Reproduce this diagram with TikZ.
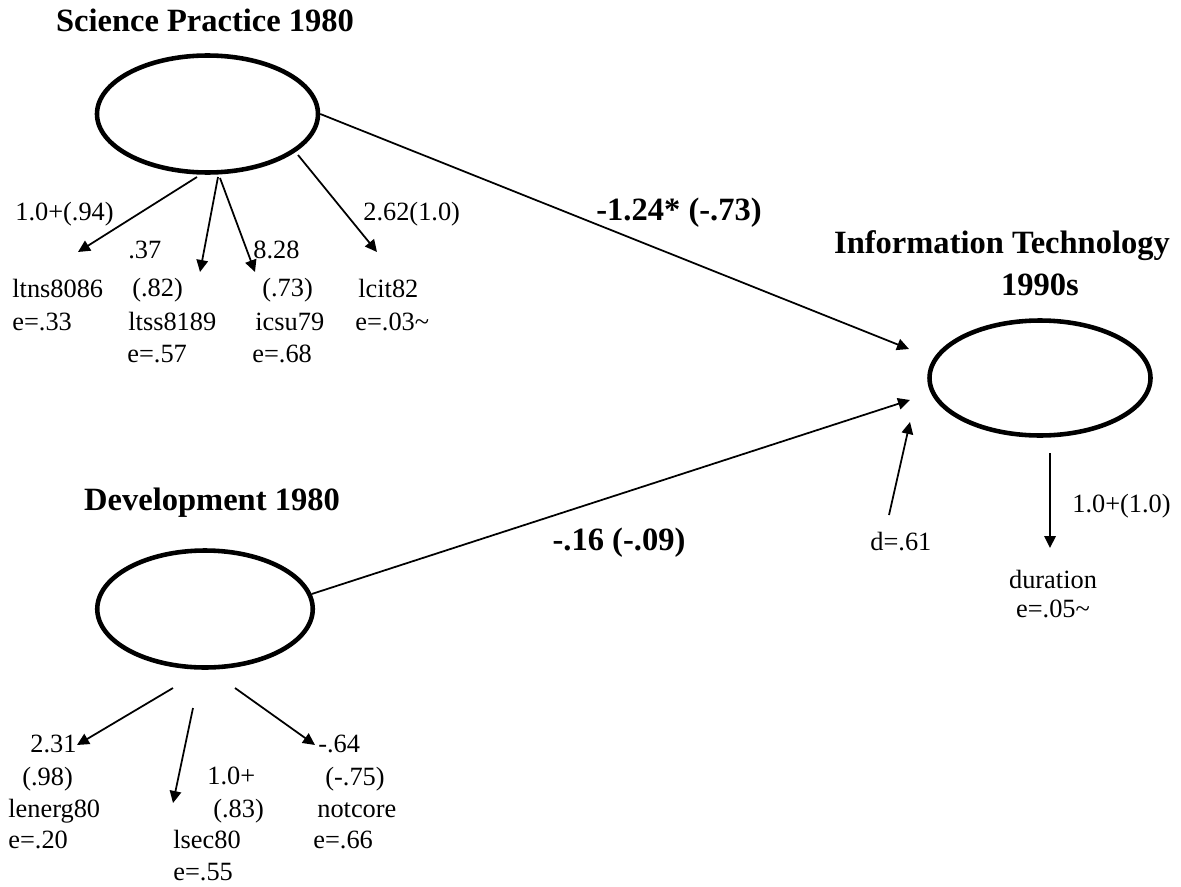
\documentclass[tikz,border=0pt]{standalone}
\usepackage{fontspec}
\setmainfont{Liberation Serif}
\usetikzlibrary{shapes.geometric,arrows.meta}

\begin{document}
\begin{tikzpicture}[x=0.2mm,y=-0.2mm,
  latent node/.style={ellipse,draw,line width=2.6pt,inner sep=0pt,minimum width=44.2mm,minimum height=23.4mm},
  title node/.style={font=\fontsize{18.5}{22}\selectfont\bfseries,inner sep=0pt,anchor=base},
  ind node/.style={font=\fontsize{15}{18}\selectfont,inner sep=0pt,anchor=base west},
  arr/.style={-{Triangle[length=2.4mm,width=2.3mm]},line width=1pt}]

\useasboundingbox (0,0) rectangle (1181,886);

% latent variables
\node[latent node] (sp) at (207.5,114) {};
\node[latent node,minimum width=43.1mm] (dev) at (205,609) {};
\node[latent node,minimum height=23mm] (it) at (1040,378) {};

\node[title node] (spt) at (205,32) {Science Practice 1980};
\node[title node] (devt) at (212,510) {Development 1980};
\node[title node] (itt) at (1002,253) {Information Technology};
\node[title node] (ity) at (1040,295) {1990s};

% path coefficients
\node[title node] (c1) at (679,220) {-1.24* (-.73)};
\node[title node] (c2) at (619,550) {-.16 (-.09)};

% science practice indicators
\node[ind node] (l1) at (15,220) {1.0+(.94)};
\node[ind node] (l4) at (363,220) {2.62(1.0)};
\node[ind node] (l2) at (128,258) {.37};
\node[ind node] (l3) at (253,258) {8.28};
\node[ind node] (ltns) at (12,297) {ltns8086};
\node[ind node] (s2) at (132,296) {(.82)};
\node[ind node] (s3) at (262,296) {(.73)};
\node[ind node] (lcit) at (358,297) {lcit82};
\node[ind node] (e1) at (12,330) {e=.33};
\node[ind node] (ltss) at (128,330) {ltss8189};
\node[ind node] (icsu) at (255,330) {icsu79};
\node[ind node] (e4) at (355,330) {e=.03\textasciitilde};
\node[ind node] (e2) at (127,362) {e=.57};
\node[ind node] (e3) at (252,362) {e=.68};

% development indicators
\node[ind node] (k1) at (30,752) {2.31};
\node[ind node] (k3) at (318,752) {-.64};
\node[ind node] (t1) at (22,785) {(.98)};
\node[ind node] (k2) at (207,784) {1.0+};
\node[ind node] (t3) at (325,785) {(-.75)};
\node[ind node] (lenerg) at (8,817) {lenerg80};
\node[ind node] (t2) at (213,817) {(.83)};
\node[ind node] (notcore) at (317,817) {notcore};
\node[ind node] (f1) at (8,848) {e=.20};
\node[ind node] (lsec) at (173,848) {lsec80};
\node[ind node] (f3) at (313,848) {e=.66};
\node[ind node] (f2) at (173,880) {e=.55};

% outcome indicator
\node[ind node] (dd) at (870,550) {d=.61};
\node[ind node] (m1) at (1072,512) {1.0+(1.0)};
\node[ind node,anchor=base] (dur) at (1053,588) {duration};
\node[ind node,anchor=base] (g1) at (1053,617) {e=.05\textasciitilde};

\coordinate (a1s) at (197,177);
\coordinate (a1e) at (78,252);
\coordinate (a2s) at (218,177);
\coordinate (a2e) at (200,272);
\coordinate (a3s) at (220,178);
\coordinate (a3e) at (255,272);
\coordinate (a4s) at (298,155);
\coordinate (a4e) at (377,252);
\coordinate (b1s) at (173,688);
\coordinate (b1e) at (77,745);
\coordinate (b2s) at (193,708);
\coordinate (b2e) at (173,803);
\coordinate (b3s) at (235,688);
\coordinate (b3e) at (315,745);
\coordinate (spin) at (909,349);
\coordinate (devin) at (910,400);
\coordinate (ds) at (889,515);
\coordinate (de) at (910,422);
\coordinate (dus) at (1050,453);
\coordinate (due) at (1050,548);

\path[] (a1s) [arr] edge (a1e);
\path[] (a2s) [arr] edge (a2e);
\path[] (a3s) [arr] edge (a3e);
\path[] (a4s) [arr] edge (a4e);
\path[] (b1s) [arr] edge (b1e);
\path[] (b2s) [arr] edge (b2e);
\path[] (b3s) [arr] edge (b3e);
\path[] (sp.east) [arr] edge (spin);
\path[] (dev.8) [arr] edge (devin);
\path[] (ds) [arr] edge (de);
\path[] (dus) [arr] edge (due);

\end{tikzpicture}
\end{document}
